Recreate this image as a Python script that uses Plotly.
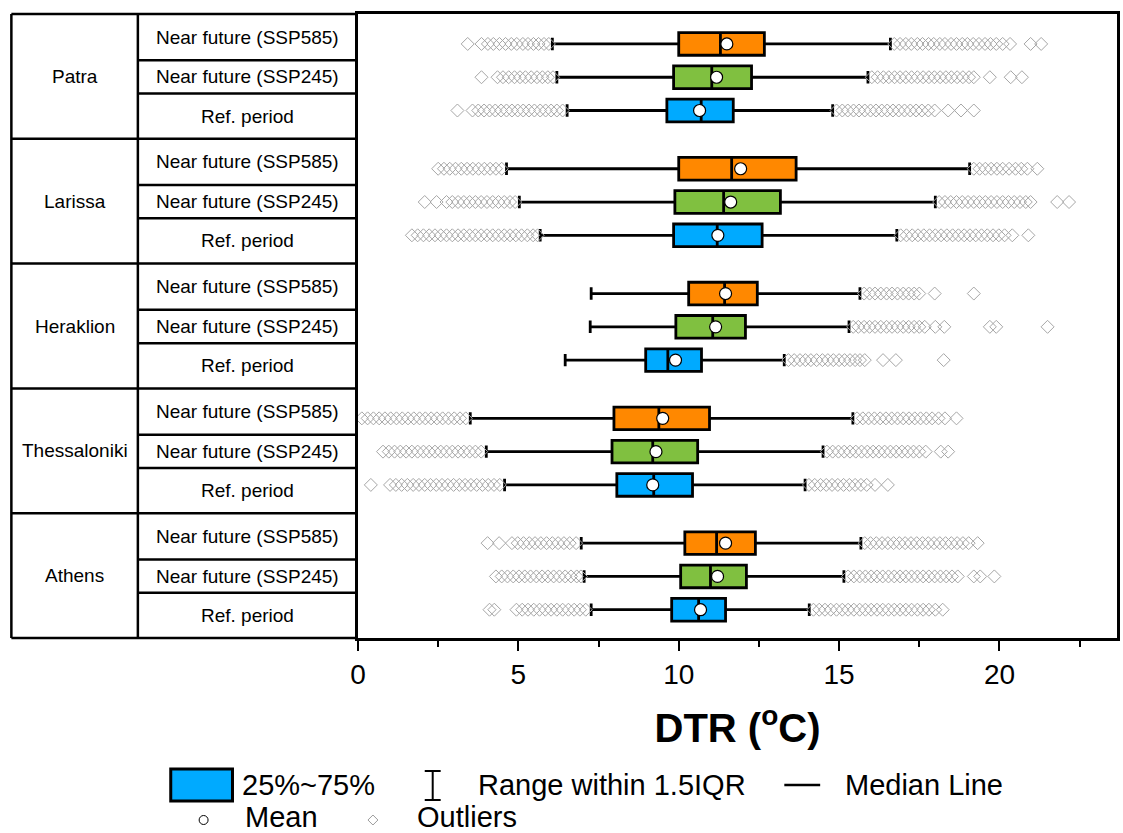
import plotly.graph_objects as go

# ---------------- data ----------------
cities = ["Patra", "Larissa", "Heraklion", "Thessaloniki", "Athens"]
periods = ["Near future (SSP585)", "Near future (SSP245)", "Ref. period"]
period_colors = ["#FF8800", "#80C040", "#00AAFF"]

# stats per city (rows) and period (cols: SSP585, SSP245, Ref)
lowerfence = [[6.06, 6.2, 6.52], [4.63, 5.03, 5.68], [7.27, 7.24, 6.46], [3.5, 4.0, 4.57], [6.96, 7.05, 7.27]]
q1 = [[10.0, 9.84, 9.63], [10.0, 9.88, 9.84], [10.31, 9.91, 8.97], [7.98, 7.92, 8.07], [10.19, 10.06, 9.78]]
median = [[11.3, 11.03, 10.7], [11.65, 11.4, 11.2], [11.43, 11.06, 9.66], [9.38, 9.19, 9.22], [11.18, 10.99, 10.62]]
q3 = [[12.67, 12.27, 11.7], [13.66, 13.17, 12.6], [12.45, 12.08, 10.71], [10.96, 10.59, 10.43], [12.39, 12.11, 11.46]]
upperfence = [[16.6, 15.9, 14.8], [19.07, 18.0, 16.8], [15.65, 15.31, 13.29], [15.43, 14.5, 13.94], [15.68, 15.15, 14.07]]
means = [[11.5, 11.18, 10.65], [11.93, 11.62, 11.22], [11.46, 11.15, 9.9], [9.5, 9.29, 9.19], [11.46, 11.21, 10.68]]

outliers = [
    [  # Patra
        [3.42, 3.85, 4.05, 4.22, 4.41, 4.6, 4.78, 4.95, 5.14, 5.3, 5.47, 5.63, 5.8, 5.95,
         16.72, 16.9, 17.08, 17.25, 17.44, 17.6, 17.79, 17.95, 18.14, 18.3, 18.49, 18.66, 18.84, 19.0,
         19.18, 19.36, 19.55, 19.72, 19.9, 20.1, 20.33, 20.97, 21.3],
        [3.85, 4.35, 4.52, 4.7, 4.88, 5.05, 5.22, 5.4, 5.58, 5.75, 5.92, 6.08,
         16.02, 16.2, 16.38, 16.55, 16.73, 16.9, 17.08, 17.26, 17.44, 17.62, 17.8, 17.97, 18.15, 18.33,
         18.5, 18.68, 18.86, 19.05, 19.2, 19.7, 20.35, 20.7],
        [3.1, 3.57, 3.75, 3.93, 4.1, 4.28, 4.46, 4.63, 4.8, 4.98, 5.15, 5.33, 5.5, 5.68, 5.85, 6.02, 6.2, 6.38,
         14.92, 15.1, 15.27, 15.45, 15.62, 15.8, 15.98, 16.15, 16.33, 16.5, 16.68, 16.86, 17.04, 17.22,
         17.4, 17.58, 17.78, 17.98, 18.4, 18.8, 19.2],
    ],
    [  # Larissa
        [2.5, 2.68, 2.86, 3.04, 3.22, 3.4, 3.58, 3.76, 3.94, 4.12, 4.3, 4.48,
         19.2, 19.38, 19.56, 19.74, 19.92, 20.1, 20.3, 20.5, 20.68, 20.87, 21.18],
        [2.08, 2.45, 2.76, 2.94, 3.12, 3.3, 3.48, 3.66, 3.84, 4.02, 4.2, 4.38, 4.56, 4.74, 4.9,
         18.12, 18.3, 18.48, 18.66, 18.84, 19.02, 19.2, 19.38, 19.56, 19.74, 19.92, 20.1, 20.28, 20.46,
         20.64, 20.82, 20.97, 21.8, 22.17],
        [1.68, 1.86, 2.04, 2.22, 2.4, 2.58, 2.76, 2.94, 3.12, 3.3, 3.48, 3.66, 3.84, 4.02, 4.2, 4.38, 4.56,
         4.74, 4.92, 5.1, 5.28, 5.46, 5.6,
         16.92, 17.1, 17.28, 17.46, 17.64, 17.82, 18.0, 18.18, 18.36, 18.54, 18.72, 18.9, 19.08, 19.26,
         19.44, 19.62, 19.8, 19.98, 20.16, 20.4, 20.9],
    ],
    [  # Heraklion
        [15.78, 15.95, 16.12, 16.3, 16.48, 16.65, 16.82, 17.0, 17.17, 17.34, 17.5, 17.98, 19.2],
        [15.44, 15.6, 15.78, 15.95, 16.12, 16.3, 16.48, 16.65, 16.82, 17.0, 17.17, 17.34, 17.5, 17.67,
         18.0, 18.28, 19.7, 19.9, 21.5],
        [13.42, 13.6, 13.78, 13.95, 14.12, 14.3, 14.48, 14.65, 14.82, 15.0, 15.17, 15.34, 15.5, 15.65,
         15.8, 16.37, 16.77, 18.26],
    ],
    [  # Thessaloniki
        [0.12, 0.3, 0.48, 0.66, 0.84, 1.02, 1.2, 1.38, 1.56, 1.74, 1.92, 2.1, 2.28, 2.46, 2.64, 2.82, 3.0,
         3.18, 3.36,
         15.56, 15.74, 15.92, 16.1, 16.28, 16.46, 16.64, 16.82, 17.0, 17.18, 17.36, 17.54, 17.72, 17.9,
         18.1, 18.3, 18.66],
        [0.78, 0.96, 1.14, 1.32, 1.5, 1.68, 1.86, 2.04, 2.22, 2.4, 2.58, 2.76, 2.94, 3.12, 3.3, 3.48, 3.66, 3.84,
         14.62, 14.8, 14.98, 15.16, 15.34, 15.52, 15.7, 15.88, 16.06, 16.24, 16.42, 16.6, 16.78, 16.96,
         17.14, 17.32, 17.5, 17.7, 18.17, 18.4],
        [0.4, 1.0, 1.18, 1.36, 1.54, 1.72, 1.9, 2.08, 2.26, 2.44, 2.62, 2.8, 2.98, 3.16, 3.34, 3.52, 3.7,
         3.88, 4.06, 4.24, 4.42,
         14.06, 14.24, 14.42, 14.6, 14.78, 14.96, 15.14, 15.32, 15.5, 15.68, 15.86, 16.12, 16.52],
    ],
    [  # Athens
        [4.04, 4.4, 4.8, 4.98, 5.16, 5.34, 5.52, 5.7, 5.88, 6.06, 6.24, 6.42, 6.6, 6.8,
         15.8, 15.98, 16.16, 16.34, 16.52, 16.7, 16.88, 17.06, 17.24, 17.42, 17.6, 17.78, 17.96, 18.14,
         18.32, 18.5, 18.68, 18.86, 19.04, 19.32],
        [4.3, 4.48, 4.66, 4.84, 5.02, 5.2, 5.38, 5.56, 5.74, 5.92, 6.1, 6.28, 6.46, 6.64, 6.82, 6.95,
         15.28, 15.46, 15.64, 15.82, 16.0, 16.18, 16.36, 16.54, 16.72, 16.9, 17.08, 17.26, 17.44, 17.62,
         17.8, 17.98, 18.16, 18.34, 18.52, 18.7, 19.2, 19.4, 19.84],
        [4.1, 4.25, 4.94, 5.12, 5.3, 5.48, 5.66, 5.84, 6.02, 6.2, 6.38, 6.56, 6.74, 6.92, 7.1,
         14.2, 14.38, 14.56, 14.74, 14.92, 15.1, 15.28, 15.46, 15.64, 15.82, 16.0, 16.18, 16.36, 16.54,
         16.72, 16.9, 17.08, 17.26, 17.44, 17.62, 17.8, 18.0, 18.23],
    ],
]

x_ticks = [0, 5, 10, 15, 20]
x_title = "<b>DTR (<sup>o</sup>C)</b>"
legend_labels = ["25%~75%", "Range within 1.5IQR", "Median Line", "Mean", "Outliers"]

# ---------------- layout constants ----------------
W, H = 1123, 833
PL, PR, PT, PB = 358, 1120, 14, 638          # plot area in pixels
GROUP = 3.75                                  # y-units per city group
BOX_OFF = [0.9, 1.9, 2.9]                     # box centre offsets inside a group
ROW_LINES = [1.39, 2.39]                      # row separators inside a group
LABEL_OFF = [0.695, 1.89, 3.07]               # period label centres
YMAX = GROUP * len(cities)

FONT = "Liberation Sans, Arial, sans-serif"


def px(x):
    return (x - PL) / (PR - PL)


def py(y):
    return (PB - y) / (PB - PT)


def yu(v):  # y data unit -> paper
    return 1 - v / YMAX


fig = go.Figure()

# boxes: one trace per period
for j, per in enumerate(periods):
    pos = [i * GROUP + BOX_OFF[j] for i in range(len(cities))]
    fig.add_trace(go.Box(
        y=pos, orientation="h",
        q1=[q1[i][j] for i in range(len(cities))],
        median=[median[i][j] for i in range(len(cities))],
        q3=[q3[i][j] for i in range(len(cities))],
        lowerfence=[lowerfence[i][j] for i in range(len(cities))],
        upperfence=[upperfence[i][j] for i in range(len(cities))],
        width=0.68, whiskerwidth=0.55,
        fillcolor=period_colors[j],
        line=dict(color="black", width=2.8),
        boxpoints=False, showlegend=False, name=per,
    ))

# outliers
ox, oy = [], []
for i in range(len(cities)):
    for j in range(len(periods)):
        for v in outliers[i][j]:
            ox.append(v)
            oy.append(i * GROUP + BOX_OFF[j])
fig.add_trace(go.Scatter(
    x=ox, y=oy, mode="markers", showlegend=False,
    marker=dict(symbol="diamond-open", size=10, color="#a6a6a6", line=dict(width=1)),
))

# means
mx, my = [], []
for i in range(len(cities)):
    for j in range(len(periods)):
        mx.append(means[i][j])
        my.append(i * GROUP + BOX_OFF[j])
fig.add_trace(go.Scatter(
    x=mx, y=my, mode="markers", showlegend=False,
    marker=dict(symbol="circle", size=12, color="white", line=dict(color="black", width=1.2)),
))

shapes = []
LW = 2.5


def hline(x0, x1, yv, w=LW):
    shapes.append(dict(type="line", xref="paper", yref="paper", x0=px(x0), x1=px(x1),
                       y0=yv, y1=yv, line=dict(color="black", width=w)))


def vline(xv, y0, y1, w=LW):
    shapes.append(dict(type="line", xref="paper", yref="paper", x0=px(xv), x1=px(xv),
                       y0=y0, y1=y1, line=dict(color="black", width=w)))


# table frame
hline(10, PL, 1)
hline(10, PL, 0)
vline(10, 0, 1)
vline(137, 0, 1)
for k in range(1, len(cities)):
    hline(10, PL, yu(k * GROUP))
for k in range(len(cities)):
    for r in ROW_LINES:
        hline(137, PL, yu(k * GROUP + r))

annotations = []
for i, c in enumerate(cities):
    annotations.append(dict(text=c, xref="paper", yref="paper", x=px(73.5), y=yu(i * GROUP + GROUP / 2),
                            showarrow=False, xanchor="center", yanchor="middle",
                            font=dict(family=FONT, size=19, color="black")))
    for j, per in enumerate(periods):
        annotations.append(dict(text=per, xref="paper", yref="paper", x=px(247.5), y=yu(i * GROUP + LABEL_OFF[j]),
                                showarrow=False, xanchor="center", yanchor="middle",
                                font=dict(family=FONT, size=19, color="black")))

# ---------------- manual legend ----------------
shapes.append(dict(type="rect", xref="paper", yref="paper", x0=px(170), x1=px(232), y0=py(769), y1=py(801),
                   fillcolor=period_colors[2], line=dict(color="black", width=3)))
# I-bar
shapes.append(dict(type="line", xref="paper", yref="paper", x0=px(433), x1=px(433), y0=py(771), y1=py(800),
                   line=dict(color="black", width=2)))
for yy in (771, 800):
    shapes.append(dict(type="line", xref="paper", yref="paper", x0=px(425), x1=px(441), y0=py(yy), y1=py(yy),
                       line=dict(color="black", width=2)))
# median line
shapes.append(dict(type="line", xref="paper", yref="paper", x0=px(786), x1=px(822), y0=py(785), y1=py(785),
                   line=dict(color="black", width=2.5)))
# mean circle
shapes.append(dict(type="circle", xref="paper", yref="paper", x0=px(198.5), x1=px(207.5), y0=py(815.5), y1=py(824.5),
                   fillcolor="white", line=dict(color="black", width=1)))
# outlier diamond
shapes.append(dict(type="path", xref="paper", yref="paper",
                   path=f"M {px(368)} {py(820)} L {px(373)} {py(815)} L {px(378)} {py(820)} L {px(373)} {py(825)} Z",
                   line=dict(color="#9c9c9c", width=1)))

leg_pos = [(240, 785), (476, 785), (845, 785), (243, 817), (415, 817)]
for lab, (lx, ly) in zip(legend_labels, leg_pos):
    annotations.append(dict(text=lab, xref="paper", yref="paper", x=px(lx), y=py(ly),
                            showarrow=False, xanchor="left", yanchor="middle",
                            font=dict(family=FONT, size=29, color="black")))

fig.update_layout(
    width=W, height=H,
    margin=dict(l=PL, r=W - PR, t=PT, b=H - PB, pad=0),
    plot_bgcolor="white", paper_bgcolor="white",
    shapes=shapes, annotations=annotations,
    showlegend=False,
    xaxis=dict(
        range=[0, (PR - PL) / 32.2], tickvals=x_ticks, ticktext=[str(t) for t in x_ticks],
        showline=True, linecolor="black", linewidth=LW, mirror=True,
        ticks="outside", ticklen=10, tickwidth=2, tickcolor="black",
        minor=dict(dtick=2.5, tick0=0, ticks="outside", ticklen=6, tickwidth=1.5, tickcolor="black"),
        showgrid=False, zeroline=False,
        tickfont=dict(family=FONT, size=28, color="black"),
        title=dict(text=x_title, font=dict(family=FONT, size=40, color="black"), standoff=25),
    ),
    yaxis=dict(
        range=[YMAX, 0], showline=True, linecolor="black", linewidth=LW, mirror=True,
        showticklabels=False, ticks="", showgrid=False, zeroline=False,
    ),
)

fig.write_html("out.html")
